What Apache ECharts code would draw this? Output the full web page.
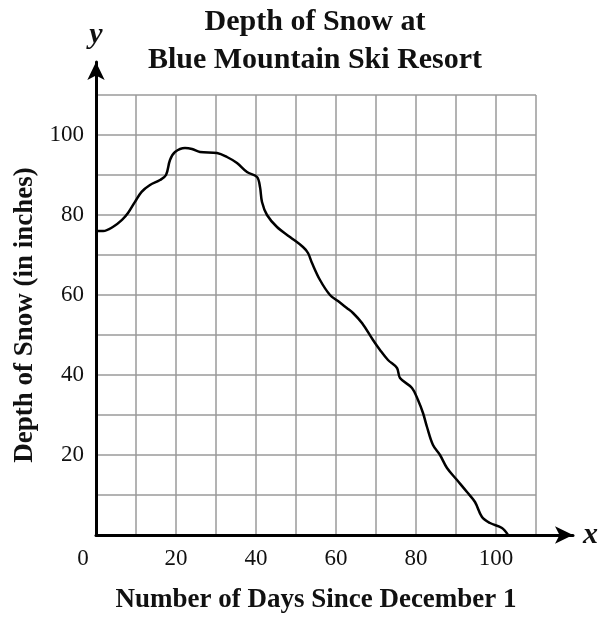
<!DOCTYPE html>
<html>
<head>
<meta charset="utf-8">
<script src="https://cdn.jsdelivr.net/npm/echarts@6/dist/echarts.min.js"></script>
<style>
html,body{margin:0;padding:0;background:#fff;}
#c{width:602px;height:619px;}
</style>
</head>
<body>
<div id="c"></div>
<script>
// Days since December 1 (x) and snow depth in inches (y)
var days = [0, 1.8, 4.2, 6.5, 8, 9.75, 11.4, 13.5, 16, 17.5, 18.5, 19.75, 22.25, 24, 26, 30.25, 32.75, 35.25, 37.75, 40.25, 41, 41.5, 42.75, 45.25, 48.5, 51.75, 53, 54, 56, 58.5, 60.5, 62.7, 64.25, 66.5, 69.25, 71, 73, 75.25, 76, 79, 80.5, 81.75, 82.75, 84.25, 86, 87.75, 90.25, 92.75, 94.75, 96.5, 98.5, 101.5, 103];
var depth = [76, 76, 77, 78.8, 80.5, 83.3, 85.8, 87.5, 88.75, 90, 93.75, 95.75, 96.75, 96.5, 95.75, 95.5, 94.5, 93, 90.75, 89.5, 87, 83.25, 80, 77, 74.5, 72, 70.5, 68, 63.75, 60, 58.5, 56.75, 55.5, 53, 48.75, 46.25, 43.75, 41.75, 39.25, 36.75, 33.75, 30.5, 27, 22.5, 20, 16.75, 13.75, 10.75, 8.25, 4.5, 3, 1.75, 0];
var xTickLabels = [0, 20, 40, 60, 80, 100];
var yTickLabels = [20, 40, 60, 80, 100];

var serif = '"Liberation Serif", "DejaVu Serif", serif';
var points = days.map(function (d, i) { return [d, depth[i]]; });

var chart = echarts.init(document.getElementById('c'), null, {renderer: 'canvas'});
chart.setOption({
  animation: false,
  backgroundColor: '#fff',
  title: {
    text: 'Depth of Snow at\nBlue Mountain Ski Resort',
    left: 310,
    top: -2,
    textAlign: 'center',
    textStyle: {fontFamily: serif, fontWeight: 'bold', fontSize: 30, lineHeight: 38, color: '#111'}
  },
  grid: [
    {left: 96, right: 66, top: 95, bottom: 84, containLabel: false},
    {left: 96, right: 29, top: 62, bottom: 84, containLabel: false}
  ],
  xAxis: [
    {
      type: 'value', gridIndex: 0, min: 0, max: 110, interval: 10,
      name: 'Number of Days Since December 1',
      nameLocation: 'middle', nameGap: 52,
      nameTextStyle: {fontFamily: serif, fontWeight: 'bold', fontSize: 27, color: '#111'},
      axisLine: {show: false},
      axisTick: {show: false},
      axisLabel: {
        margin: 12, fontFamily: serif, fontSize: 23, color: '#111',
        formatter: function (v) {
          if (v === 0) return '{z|0}';
          return xTickLabels.indexOf(v) >= 0 ? String(v) : '';
        },
        rich: {z: {fontFamily: serif, fontSize: 23, color: '#111', padding: [0, 26, 0, 0]}}
      },
      splitLine: {show: true, lineStyle: {color: '#9a9a9a', width: 1.5}}
    },
    {
      type: 'value', gridIndex: 1, min: 0, max: 1,
      name: 'x', nameLocation: 'end', nameGap: 10,
      nameTextStyle: {fontFamily: serif, fontStyle: 'italic', fontWeight: 'bold', fontSize: 30, color: '#111', verticalAlign: 'middle', padding: [4, 0, 0, 0]},
      axisLine: {show: true, symbol: ['none', 'arrow'], symbolSize: [13, 18], lineStyle: {color: '#000', width: 3}},
      axisTick: {show: false}, axisLabel: {show: false}, splitLine: {show: false}
    }
  ],
  yAxis: [
    {
      type: 'value', gridIndex: 0, min: 0, max: 110, interval: 10,
      name: 'Depth of Snow (in inches)',
      nameLocation: 'middle', nameGap: 56,
      nameTextStyle: {fontFamily: serif, fontWeight: 'bold', fontSize: 27, color: '#111'},
      axisLine: {show: false},
      axisTick: {show: false},
      axisLabel: {
        margin: 12, fontFamily: serif, fontSize: 23, color: '#111',
        formatter: function (v) { return yTickLabels.indexOf(v) >= 0 ? String(v) : ''; }
      },
      splitLine: {show: true, lineStyle: {color: '#9a9a9a', width: 1.5}}
    },
    {
      type: 'value', gridIndex: 1, min: 0, max: 1,
      name: 'y', nameLocation: 'end', nameGap: 12,
      nameTextStyle: {fontFamily: serif, fontStyle: 'italic', fontWeight: 'bold', fontSize: 30, color: '#111'},
      axisLine: {show: true, symbol: ['none', 'arrow'], symbolSize: [13, 18], lineStyle: {color: '#000', width: 3}},
      axisTick: {show: false}, axisLabel: {show: false}, splitLine: {show: false}
    }
  ],
  series: [{
    type: 'line',
    xAxisIndex: 0, yAxisIndex: 0,
    data: points,
    smooth: 0.35,
    showSymbol: false,
    lineStyle: {color: '#000', width: 2.5},
    z: 5
  }]
});
</script>
</body>
</html>
